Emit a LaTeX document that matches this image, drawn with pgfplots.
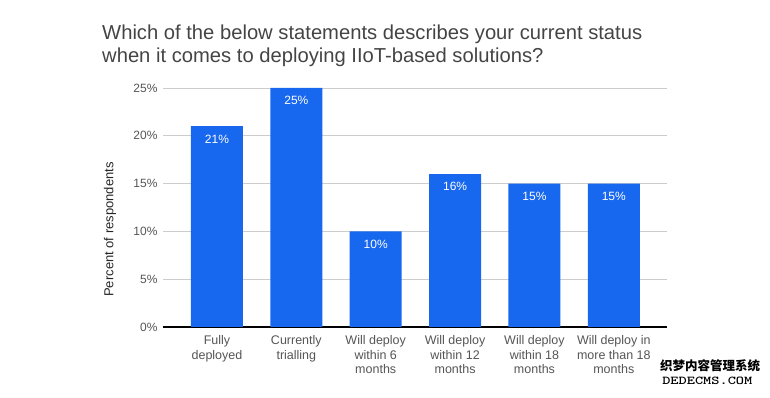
\documentclass[border=0pt]{standalone}
\usepackage{pgfplots}
\pgfplotsset{compat=1.18}
\usepackage{fontspec}
\setmainfont{Liberation Sans}
\newfontfamily\cjk{Noto Sans CJK SC}
\definecolor{barblue}{HTML}{1767EF}
\definecolor{titlegray}{HTML}{444444}
\definecolor{ticktext}{HTML}{555555}
\definecolor{gridgray}{HTML}{CCCCCC}
\pgfplotstableread{
x y
0 21
1 25
2 10
3 16
4 15
5 15
}\datatable
\begin{document}
\begin{tikzpicture}[x=1pt,y=1pt]
\useasboundingbox (0,0) rectangle (770,398);
\node[anchor=base west, inner sep=0, text=titlegray, font=\fontsize{20.2}{24}\selectfont] at (102,358) {Which of the below statements describes your current status};
\node[anchor=base west, inner sep=0, text=titlegray, font=\fontsize{20.2}{24}\selectfont] at (102,335) {when it comes to deploying IIoT-based solutions?};
\node[rotate=90, inner sep=0, text=black!85, font=\fontsize{13}{15}\selectfont] at (110,168.5) {Percent of respondents};
\begin{axis}[
  at={(163pt,71pt)}, anchor=south west,
  scale only axis, width=504pt, height=239pt,
  xmin=-0.68, xmax=5.67, ymin=0, ymax=25,
  axis line style={draw=none},
  ybar, bar width=52pt,
  ytick={0,5,10,15,20,25},
  yticklabel={\pgfmathprintnumber{\tick}\%},
  /pgf/number format/assume math mode=true,
  ymajorgrids, grid style={gridgray, line width=0.8pt},
  major tick length=0pt,
  yticklabel style={text=ticktext, font=\fontsize{12}{14}\selectfont, xshift=-2pt},
  extra y ticks={0}, extra y tick labels={},
  extra y tick style={grid style={black, line width=1.2pt}},
  xtick={0,1,2,3,4,5},
  xticklabels={{Fully\\deployed},{Currently\\trialling},{Will deploy\\within 6\\months},{Will deploy\\within 12\\months},{Will deploy\\within 18\\months},{Will deploy in\\more than 18\\months}},
  xticklabel style={align=center, text=ticktext, font=\fontsize{12.5}{14.7}\selectfont, yshift=-5pt},
  nodes near coords={\pgfmathprintnumber{\pgfplotspointmeta}\%},
  every node near coord/.append style={anchor=north, yshift=-5pt, text=white, font=\fontsize{12}{14}\selectfont},
  clip=false,
]
\addplot[fill=barblue, draw=none] table[x=x, y=y] {\datatable};
\end{axis}
\node[anchor=west, inner sep=0, font=\cjk\bfseries\fontsize{12.5}{12}\selectfont] at (660,32) {织梦内容管理系统};
\node[anchor=west, inner sep=0, xscale=1.3, font=\ttfamily\bfseries\fontsize{12}{12}\selectfont] at (662,17) {DEDECMS.COM};
\end{tikzpicture}
\end{document}
